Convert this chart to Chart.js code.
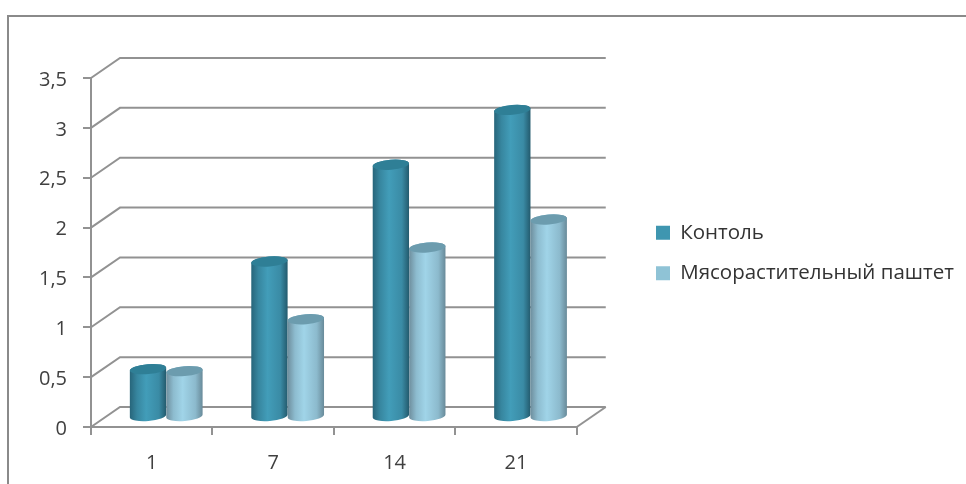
<!DOCTYPE html>
<html>
<head>
<meta charset="utf-8">
<style>
  html, body { margin: 0; background: #fff; overflow: hidden; }
  #frame { position: absolute; left: 7px; top: 15px; width: 966px; height: 480px;
           border-left: 2px solid #8a8a8a; border-top: 2px solid #8a8a8a; }
  canvas { position: absolute; left: 0; top: 0; }
</style>
<script src="https://cdn.jsdelivr.net/npm/chart.js@4"></script>
</head>
<body>
<div id="frame"></div>
<canvas id="days" width="966" height="484"></canvas>
<script>
const categories = ["1", "7", "14", "21"];
const control = [0.48, 1.56, 2.53, 3.08];
const pate = [0.46, 0.98, 1.7, 1.98];
const seriesNames = ["Контоль", "Мясорастительный паштет"];
const yTicks = [0, 0.5, 1, 1.5, 2, 2.5, 3, 3.5];

const legendColors = ["#3f96b0", "#8fc3d6"];
const capColors = ["#2f7f96", "#6c9cae"];
const shades = [
    ["#27657a", "#37869f", "#429db9", "#3a8ba5", "#235a6d"],
    ["#6e8e9d", "#8dbccf", "#a0d4e8", "#8cbacd", "#688a99"],
];

const gridColor = "#929292";
const depthX = 29, depthY = 20;

// back wall and floor, drawn from the scale ticks with a fixed oblique depth
const walls = {
    id: "walls",
    afterLayout(chart) {
        // pull the legend away from the plot, the wall depth sits in that gap
        const legend = chart.legend;
        legend.maxWidth = 400;
        legend.fit();
        legend.left = 636;
        legend.right = 636 + legend.width;
        legend.top = 0;
        legend.bottom = 506;
    },
    beforeDatasetsDraw(chart) {
        const { ctx, scales: { x, y } } = chart;
        ctx.save();
        ctx.strokeStyle = gridColor;
        ctx.lineWidth = 2;
        y.ticks.forEach(t => {
            const py = y.getPixelForValue(t.value);
            ctx.beginPath();
            ctx.moveTo(x.left, py);
            ctx.lineTo(x.left + depthX, py - depthY);
            ctx.lineTo(x.right + depthX, py - depthY);
            ctx.stroke();
        });
        const floor = y.getPixelForValue(0);
        ctx.beginPath();
        ctx.moveTo(x.right, floor);
        ctx.lineTo(x.right + depthX, floor - depthY);
        ctx.stroke();
        ctx.restore();
    },
};

// bars are drawn as tilted cylinders standing halfway into the depth,
// first series first so the second one overlaps it
const cylinders = {
    id: "cylinders",
    beforeDatasetDraw() {
        return false;
    },
    afterDatasetsDraw(chart) {
        const { ctx } = chart;
        const tilt = -0.08;
        ctx.save();
        ctx.translate(depthX / 2, -depthY / 2);
        chart.data.datasets.forEach((ds, i) => {
            chart.getDatasetMeta(i).data.forEach(bar => {
                const { x, y, base, width } = bar.getProps(["x", "y", "base", "width"]);
                const rx = width / 2, ry = 5;
                const grad = ctx.createLinearGradient(x - rx, 0, x + rx, 0);
                [0, 0.2, 0.45, 0.8, 1].forEach((s, k) => grad.addColorStop(s, shades[i][k]));
                ctx.beginPath();
                ctx.ellipse(x, base, rx, ry, tilt, Math.PI, 0, true);
                ctx.ellipse(x, y, rx, ry, tilt, 0, Math.PI, true);
                ctx.closePath();
                ctx.fillStyle = grad;
                ctx.fill();
                ctx.beginPath();
                ctx.ellipse(x, y, rx, ry, tilt, 0, Math.PI * 2);
                ctx.fillStyle = capColors[i];
                ctx.fill();
            });
        });
        ctx.restore();
    },
};

const textFont = { family: "'Open Sans'", size: 20 };

new Chart(document.getElementById("days"), {
    type: "bar",
    data: {
        labels: categories,
        datasets: [
            { label: seriesNames[0], data: control, backgroundColor: legendColors[0] },
            { label: seriesNames[1], data: pate, backgroundColor: legendColors[1] },
        ],
    },
    options: {
        responsive: false,
        animation: false,
        events: [],
        categoryPercentage: 0.6,
        barPercentage: 1,
        layout: { padding: { top: 78, right: 197 } },
        scales: {
            x: {
                afterFit(s) { s.height = 57; },
                border: { color: gridColor, width: 2 },
                grid: { drawOnChartArea: false, color: gridColor, lineWidth: 2, tickLength: 8 },
                ticks: { color: "#404040", font: textFont, padding: 16 },
            },
            y: {
                min: 0,
                max: 3.5,
                afterFit(s) { s.width = 91; },
                afterBuildTicks(s) { s.ticks = yTicks.map(value => ({ value })); },
                border: { color: gridColor, width: 2 },
                grid: { drawOnChartArea: false, color: gridColor, lineWidth: 2, tickLength: 8 },
                ticks: {
                    color: "#404040",
                    font: textFont,
                    padding: 16,
                    labelOffset: 2,
                    callback: v => String(v).replace(".", ","),
                },
            },
        },
        plugins: {
            tooltip: { enabled: false },
            legend: {
                position: "right",
                labels: {
                    color: "#333333",
                    font: { family: "'Open Sans'", size: 20.5 },
                    boxWidth: 14,
                    boxHeight: 14,
                    padding: 20,
                },
            },
        },
    },
    plugins: [walls, cylinders],
});
</script>
</body>
</html>
